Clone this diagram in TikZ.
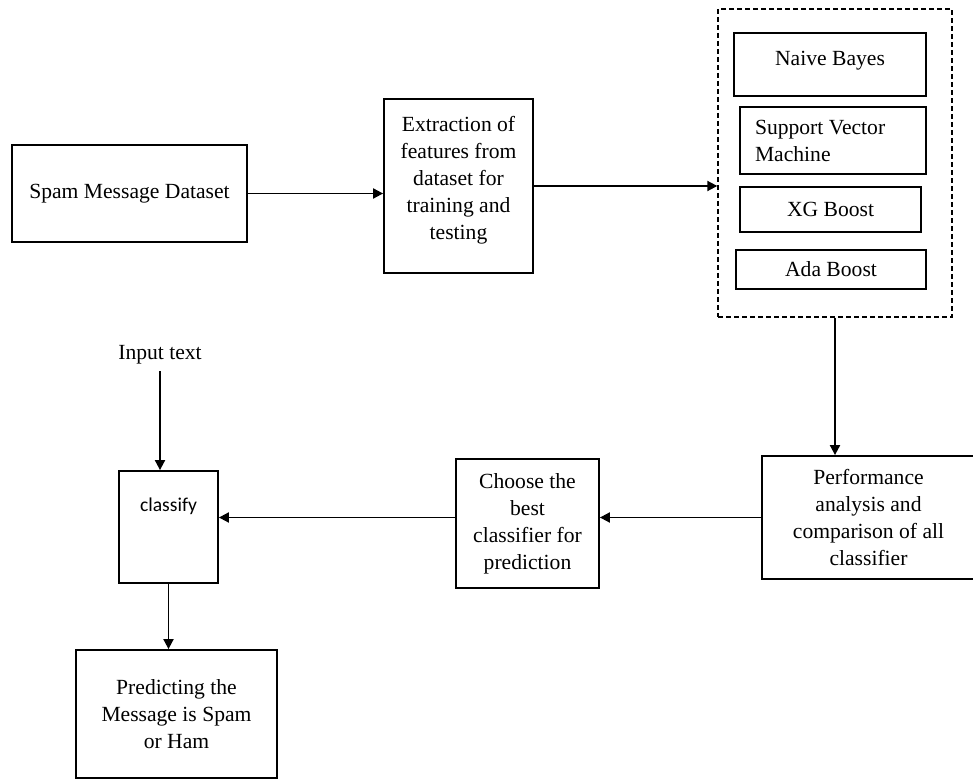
\documentclass[tikz,border=0pt]{standalone}
\usepackage{fontspec}
\setmainfont{Liberation Serif}
\newfontfamily\calfont{Carlito}
\usetikzlibrary{arrows.meta,positioning}

\begin{document}
\begin{tikzpicture}[x=0.5pt,y=-0.5pt,
	every node/.style={font=\fontsize{10.8}{13.5}\selectfont},
	stepbox/.style={shape=rectangle,draw,line width=0.9pt,inner sep=0pt,align=center},
	groupbox/.style={shape=rectangle,draw,line width=0.7pt,dash pattern=on 2.5pt off 1.5pt},
	flow/.style={-{Triangle[length=5pt,width=5pt]},line width=0.95pt}]
	\useasboundingbox (0,0) rectangle (973,779);
	% first row
	\node[stepbox,minimum width=117.5pt,minimum height=48.5pt] (spam) at (129.5,193.5) {Spam Message Dataset};
	\node[stepbox,minimum width=74.5pt,minimum height=87pt,text depth=8pt] (extr) at (458.5,186)
		{Extraction of\\features from\\dataset for\\training and\\testing};
	% classifiers
	\node[groupbox,minimum width=117pt,minimum height=154pt] (group) at (835,163) {};
	\node[stepbox,minimum width=96pt,minimum height=31.5pt,text depth=6pt] (nb) at (830,64.5) {Naive Bayes};
	\node[stepbox,align=flush left,text width=78pt,inner xsep=7.5pt,minimum height=33.5pt] (svm) at (833,140.5)
		{Support Vector\\Machine};
	\node[stepbox,minimum width=90.5pt,minimum height=22.5pt] (xg) at (830.5,209.5) {XG Boost};
	\node[stepbox,minimum width=95pt,minimum height=19.5pt] (ada) at (831,269.5) {Ada Boost};
	% second row
	\node[stepbox,minimum width=106.5pt,minimum height=61.5pt] (perf) at (868.5,517.5)
		{Performance\\analysis and\\comparison of all\\classifier};
	\node[stepbox,minimum width=71.5pt,minimum height=64.5pt] (choose) at (527.5,523.5)
		{Choose the\\best\\classifier for\\prediction};
	\node[stepbox,minimum width=49.5pt,text height=20.5pt,text depth=35.5pt,font=\calfont\fontsize{9.8}{12}\selectfont] (classify) at (168.5,527) {classify};
	\node (input) at (160,355) {Input text};
	\node[stepbox,minimum width=100.5pt,minimum height=64pt] (pred) at (176.5,714)
		{Predicting the\\Message is Spam\\or Ham};
	% connectors
	\draw[flow] (spam.east) -- (spam.east -| extr.west);
	\draw[flow] (extr.east) -- (extr.east -| group.west);
	\draw[flow] (group.south) -- (group.south |- perf.north);
	\draw[flow] (perf.west) -- (perf.west -| choose.east);
	\draw[flow] (choose.west |- perf.west) -- (classify.east |- perf.west);
	\draw[flow] (input.south) -- (input.south |- classify.north);
	\draw[flow] (classify.south) -- (classify.south |- pred.north);
\end{tikzpicture}
\end{document}
